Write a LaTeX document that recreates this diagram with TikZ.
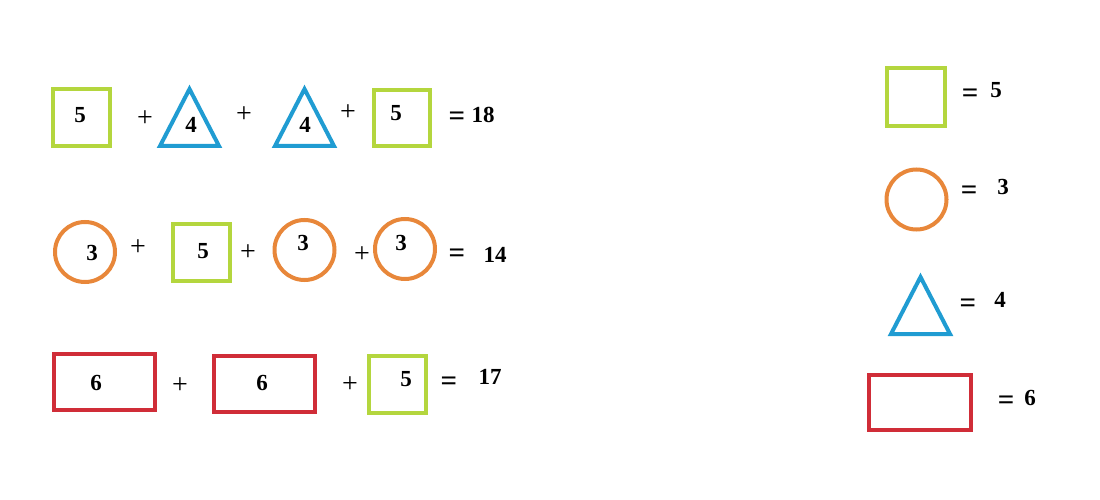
\documentclass[tikz,border=0pt]{standalone}
\usepackage{fontspec}
\setmainfont{Liberation Serif}
\definecolor{lime}{RGB}{180,214,62}
\definecolor{tblue}{RGB}{32,156,210}
\definecolor{corange}{RGB}{232,135,58}
\definecolor{rred}{RGB}{208,45,56}
\begin{document}
\begin{tikzpicture}[x=1pt,y=-1pt,
  shp/.style={line width=4pt, inner sep=0pt, outer sep=0pt},
  sq/.style={shp, draw=lime, rectangle, minimum width=57pt, minimum height=57pt},
  circ/.style={shp, draw=corange, circle, minimum size=60pt},
  rect/.style={shp, draw=rred, rectangle, minimum width=101pt, minimum height=56pt},
  tri/.style={line width=4pt, draw=tblue, line join=miter},
  num/.style={inner sep=0pt, font=\bfseries\fontsize{23}{23}\selectfont},
  op/.style={inner sep=0pt, yshift=-3pt, font=\fontsize{28}{28}\selectfont},
  eq/.style={inner sep=0pt, yshift=-4pt, font=\bfseries\fontsize{29}{29}\selectfont}]
\useasboundingbox (0,0) rectangle (1100,500);

% Row 1
\node[sq] (s1) at (81,117.5) {};
\node[num] (s1t) at (80,115) {5};
\node[op] (p11) at (145,116) {+};
\coordinate (t1) at (189.5,89);
\draw[tri] (t1) -- (160,146) -- (219,146) -- cycle;
\node[num] (t1t) at (191,125) {4};
\node[op] (p12) at (244,112) {+};
\coordinate (t2) at (304.5,89);
\draw[tri] (t2) -- (275,146) -- (334,146) -- cycle;
\node[num] (t2t) at (305,125) {4};
\node[op] (p13) at (348,110) {+};
\node[sq, minimum width=56pt, minimum height=56pt] (s2) at (402,118) {};
\node[num] (s2t) at (396,113) {5};
\node[eq] (e1) at (457,115) {=};
\node[num] (r1) at (483,115) {18};

% Row 2
\node[circ] (c1) at (85,252) {};
\node[num] (c1t) at (92,253) {3};
\node[op] (p21) at (138,245) {+};
\node[sq] (s3) at (201.5,252) {};
\node[num] (s3t) at (203,251) {5};
\node[op] (p22) at (248,250) {+};
\node[circ] (c2) at (304.5,250) {};
\node[num] (c2t) at (303,243) {3};
\node[op] (p23) at (362,252) {+};
\node[circ] (c3) at (405,249) {};
\node[num] (c3t) at (401,243) {3};
\node[eq] (e2) at (457,252) {=};
\node[num] (r2) at (495,255) {14};

% Row 3
\node[rect] (q1) at (104.5,382) {};
\node[num] (q1t) at (96,383) {6};
\node[op] (p31) at (180,383) {+};
\node[rect] (q2) at (264.5,384) {};
\node[num] (q2t) at (262,383) {6};
\node[op] (p32) at (350,382) {+};
\node[sq] (s4) at (397.5,384) {};
\node[num] (s4t) at (406,379) {5};
\node[eq] (e3) at (449,380) {=};
\node[num] (r3) at (490,377) {17};

% Legend
\node[sq, minimum width=58pt, minimum height=58pt] (ls) at (916,97.5) {};
\node[eq] (le1) at (970,92) {=};
\node[num] (lv1) at (996,90) {5};
\node[circ] (lc) at (916.5,199.5) {};
\node[eq] (le2) at (969,189) {=};
\node[num] (lv2) at (1003,187) {3};
\coordinate (lt) at (920.5,277);
\draw[tri] (lt) -- (891,334) -- (950,334) -- cycle;
\node[eq] (le3) at (968,302) {=};
\node[num] (lv3) at (1000,300) {4};
\node[rect, minimum width=102pt, minimum height=55pt] (lr) at (920,402.5) {};
\node[eq] (le4) at (1006,399) {=};
\node[num] (lv4) at (1030,398) {6};
\end{tikzpicture}
\end{document}
